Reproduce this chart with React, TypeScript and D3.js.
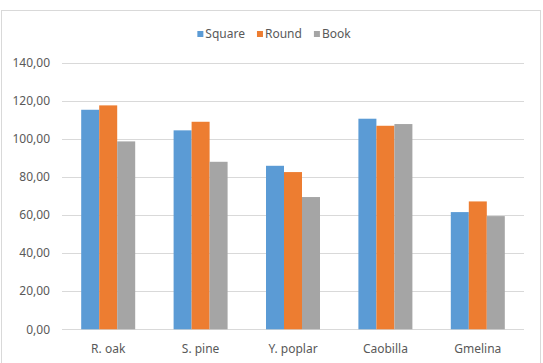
import React, { useRef, useEffect } from 'react';
import * as d3 from 'd3';

const categories = ["R. oak", "S. pine", "Y. poplar", "Caobilla", "Gmelina"];
const seriesNames = ["Square", "Round", "Book"];
const squareValues = [115.2, 104.4, 85.8, 110.5, 61.5];
const roundValues = [117.5, 108.9, 82.5, 106.8, 67.1];
const bookValues = [98.6, 87.9, 69.4, 107.7, 59.4];
const yTicks = [0, 20, 40, 60, 80, 100, 120, 140];

const colors = ["#5B9BD5", "#ED7D31", "#A5A5A5"];

const W = 543;
const H = 363;

const App = () => {
    const ref = useRef<SVGSVGElement | null>(null);

    useEffect(() => {
        const svg = d3.select(ref.current);
        svg.selectAll("*").remove();

        const font = "'Noto Sans', sans-serif";
        const textColor = "#595959";

        // chart area frame
        svg.append("rect")
            .attr("x", 1.5).attr("y", 10.5)
            .attr("width", 539).attr("height", 360)
            .attr("fill", "#fff")
            .attr("stroke", "#d9d9d9");

        const x0 = d3.scaleBand()
            .domain(categories)
            .range([62, 524])
            .paddingInner(0.4156)
            .paddingOuter(0.2078);

        const x1 = d3.scaleBand()
            .domain(seriesNames)
            .range([0, x0.bandwidth()]);

        const y = d3.scaleLinear().domain([0, 140]).range([329.3, 62.5]);

        const fmt = (v: number) => d3.format(".2f")(v).replace(".", ",");

        // gridlines
        svg.append("g").selectAll("line")
            .data(yTicks)
            .enter().append("line")
            .attr("x1", 62).attr("x2", 524)
            .attr("y1", d => Math.round(y(d)) + 0.5)
            .attr("y2", d => Math.round(y(d)) + 0.5)
            .attr("stroke", "#d9d9d9");

        // y labels
        svg.append("g").selectAll("text")
            .data(yTicks)
            .enter().append("text")
            .attr("x", 50)
            .attr("y", d => y(d))
            .attr("dy", "0.35em")
            .attr("text-anchor", "end")
            .style("font-family", font)
            .style("font-size", "12px")
            .style("fill", textColor)
            .text(d => fmt(d));

        // bars
        const allValues = [squareValues, roundValues, bookValues];
        const groups = svg.append("g").selectAll("g")
            .data(categories)
            .enter().append("g")
            .attr("transform", d => `translate(${x0(d)},0)`);

        groups.selectAll("rect")
            .data((d, i) => seriesNames.map((s, j) => ({ s, j, v: allValues[j][i] })))
            .enter().append("rect")
            .attr("x", d => x1(d.s))
            .attr("width", x1.bandwidth())
            .attr("y", d => y(d.v))
            .attr("height", d => y(0) - y(d.v))
            .attr("fill", d => colors[d.j]);

        // x labels
        svg.append("g").selectAll("text")
            .data(categories)
            .enter().append("text")
            .attr("x", d => x0(d) + x0.bandwidth() / 2)
            .attr("y", 349)
            .attr("dy", "0.35em")
            .attr("text-anchor", "middle")
            .style("font-family", font)
            .style("font-size", "12px")
            .style("fill", textColor)
            .text(d => d);

        // legend, centered
        const legend = svg.append("g");
        let cx = 0;
        seriesNames.forEach((name, i) => {
            const item = legend.append("g").attr("transform", `translate(${cx},0)`);
            item.append("rect")
                .attr("x", 0).attr("y", -3)
                .attr("width", 6).attr("height", 6)
                .attr("fill", colors[i]);
            const t = item.append("text")
                .attr("x", 8)
                .attr("y", 0)
                .attr("dy", "0.35em")
                .style("font-family", font)
                .style("font-size", "12px")
                .style("fill", textColor)
                .text(name);
            const w = (t.node() as SVGTextElement).getComputedTextLength();
            cx += 8 + w + 12;
        });
        const total = cx - 12;
        legend.attr("transform", `translate(${274 - total / 2},34)`);
    }, []);

    return (
        <svg
            ref={ref}
            width={W}
            height={H}
            style={{ position: "absolute", left: 0, top: 0, display: "block" }}
        />
    );
};

export default App;
